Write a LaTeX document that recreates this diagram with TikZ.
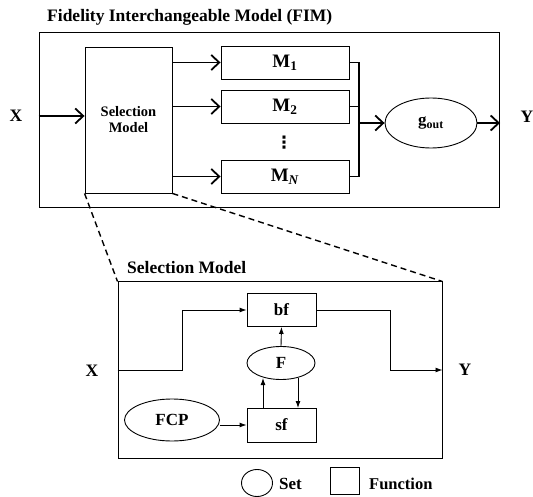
\documentclass[tikz,border=0pt]{standalone}
\usepackage{fontspec}
\setmainfont{Liberation Serif}
\newfontfamily\symfam{DejaVu Sans}
\usetikzlibrary{arrows.meta,shapes.geometric}
\begin{document}
\begin{tikzpicture}[x=1pt,y=-1pt,
  fnbox/.style={draw,rectangle,line width=0.9pt,inner sep=0pt,font=\fontsize{17}{19}\selectfont\bfseries},
  setell/.style={draw,ellipse,line width=0.9pt,inner sep=0pt,font=\fontsize{17}{19}\selectfont\bfseries},
  lbl/.style={font=\fontsize{17.5}{19}\selectfont\bfseries,inner sep=0pt},
  bigarrow/.style={line width=1.8pt,-{Straight Barb[length=8pt,width=15pt]}},
  bigline/.style={line width=1.8pt},
  thinarrow/.style={line width=0.9pt,-{Latex[length=7pt,width=5pt]}},
  zoomline/.style={line width=1.4pt,dash pattern=on 6pt off 4pt}]
\useasboundingbox (0,0) rectangle (533,497);

% ---- upper model ----
\node[lbl,anchor=west] (fimtitle) at (47,17) {Fidelity Interchangeable Model (FIM)};
\node[draw,line width=1pt,minimum width=460pt,minimum height=175pt,inner sep=0pt] (fim) at (269,120.5) {};

\node[fnbox,minimum width=87pt,minimum height=146pt,align=center,font=\fontsize{14.5}{16}\selectfont\bfseries] (sel) at (128.5,120) {Selection\\Model};
\node[fnbox,minimum width=128pt,minimum height=33pt,font=\fontsize{19}{21}\selectfont\bfseries] (m1) at (285,62.5) {M\textsubscript{1}};
\node[fnbox,minimum width=128pt,minimum height=33pt,font=\fontsize{19}{21}\selectfont\bfseries] (m2) at (285,106.5) {M\textsubscript{2}};
\node[fnbox,minimum width=128pt,minimum height=33pt,font=\fontsize{19}{21}\selectfont\bfseries] (mn) at (285,176.5) {M\textsubscript{\textit{N}}};
\node[inner sep=0pt,font=\fontsize{17}{19}\symfam\bfseries] (dots) at (284,143) {⋮};
\node[setell,minimum width=92pt,minimum height=50pt,font=\fontsize{17}{19}\selectfont\bfseries] (gout) at (431,123) {g\textsubscript{out}};

\node[lbl] (xin) at (16,116) {X};
\node[lbl] (yout) at (527,117) {Y};
\coordinate (bus) at (359,123);

\draw[bigarrow] (xin.east -| fim.west) -- (xin.east -| sel.west);
\draw[bigarrow] (sel.east |- m1) -- (m1.west);
\draw[bigarrow] (sel.east |- m2) -- (m2.west);
\draw[bigarrow] (sel.east |- mn) -- (mn.west);
\draw[bigline] (m1.east) -| (bus |- mn.east) -- (mn.east);
\draw[bigline] (m2.east) -- (bus |- m2.east);
\draw[bigarrow] (bus) -- (gout.west);
\draw[bigarrow] (gout.east) -- (500,123);

% ---- zoomed selection model ----
\node[lbl,anchor=west] (seltitle) at (127,268) {Selection Model};
\node[draw,line width=1pt,minimum width=324pt,minimum height=176pt,inner sep=0pt] (selbox) at (280,370) {};

\draw[zoomline] (sel.south west) -- (selbox.north west);
\draw[zoomline] (sel.south east) -- (selbox.north east);

\node[fnbox,minimum width=69pt,minimum height=33pt] (bf) at (281.5,310) {bf};
\node[setell,minimum width=68pt,minimum height=33pt] (fset) at (281,363) {F};
\node[fnbox,minimum width=69pt,minimum height=34pt] (sf) at (281.5,425) {sf};
\node[setell,minimum width=95pt,minimum height=42pt] (fcp) at (172,420) {FCP};

\node[lbl] (xin2) at (92,371) {X};
\node[lbl] (yout2) at (465,370) {Y};

\draw[thinarrow] (selbox.west |- 0,370) -- (182,370) -- (182,310) -- (bf.west);
\draw[thinarrow] (bf.east) -- (390,310) -- (390,370) -- (selbox.east |- 0,370);
\draw[thinarrow] (fset.north) -- (bf.south);
\draw[thinarrow] (263,408) -- (263,378);
\draw[thinarrow] (298,378) -- (298,408);
\draw[thinarrow] (fcp.east |- sf.west) -- (sf.west);

% ---- legend ----
\node[draw,ellipse,line width=0.9pt,minimum width=31pt,minimum height=27pt,inner sep=0pt] (legset) at (257,483) {};
\node[lbl,anchor=west,font=\fontsize{17}{19}\selectfont\bfseries] (legsettxt) at (279,484) {Set};
\node[draw,line width=0.9pt,minimum width=29pt,minimum height=27pt,inner sep=0pt] (legfn) at (345,481) {};
\node[lbl,anchor=west,font=\fontsize{16.5}{19}\selectfont\bfseries] (legfntxt) at (369,484) {Function};
\end{tikzpicture}
\end{document}
